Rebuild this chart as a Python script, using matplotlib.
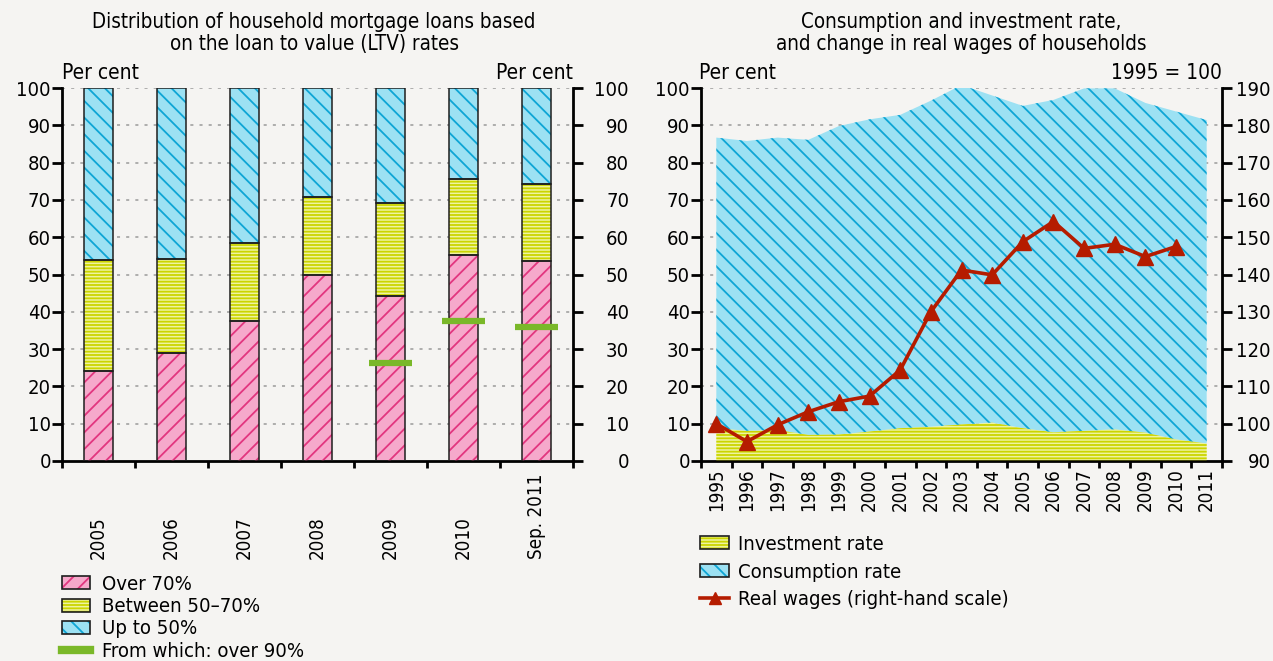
import matplotlib
matplotlib.use('Agg')
import matplotlib.pyplot as plt
import matplotlib.transforms as mtransforms
from matplotlib.patches import Patch
from matplotlib.lines import Line2D
from matplotlib.legend_handler import HandlerTuple
import numpy as np

# ---------------- data ----------------
ltv_categories = ['2005', '2006', '2007', '2008', '2009', '2010', 'Sep. 2011']
over_70 = [24.0, 29.0, 37.4, 50.0, 44.3, 55.1, 53.7]
between_50_70 = [29.9, 25.1, 21.1, 20.7, 24.8, 20.5, 20.5]
up_to_50 = [46.1, 45.9, 41.5, 29.3, 30.9, 24.4, 25.8]
over_90 = [np.nan, np.nan, np.nan, np.nan, 26.2, 37.5, 35.8]

years = ['1995', '1996', '1997', '1998', '1999', '2000', '2001', '2002', '2003',
         '2004', '2005', '2006', '2007', '2008', '2009', '2010', '2011']
investment_rate = [8.8, 8.1, 8.3, 7.0, 7.1, 7.9, 8.8, 9.2, 9.8, 10.3, 8.8, 7.7, 8.1, 8.5, 7.6, 5.8, 4.7]
consumption_rate = [77.9, 77.7, 78.4, 79.1, 82.7, 83.7, 84.0, 87.4, 91.0, 87.7, 86.4, 89.1, 91.8, 91.4, 88.4, 87.9, 86.7]
real_wages = [100.0, 95.2, 99.7, 103.2, 105.9, 107.4, 114.4, 130.0, 141.2, 139.9, 148.8, 154.2, 147.0, 148.1, 144.8, 147.5]

# ---------------- style ----------------
plt.rcParams['font.family'] = ['DejaVu Sans']
plt.rcParams['font.stretch'] = 'condensed'
plt.rcParams['hatch.linewidth'] = 1.3

BG = '#f5f4f2'
PINK_FACE, PINK_HATCH = '#f6a9cb', '#e2367f'
YEL_FACE, YEL_HATCH = '#eef3a0', '#cbd500'
BLUE_FACE, BLUE_HATCH = '#9ce1f3', '#0ea5d5'
GREEN = '#7ab829'
RED = '#b51c00'
YFS = 14.5      # y tick labels
XFS = 13.5      # rotated category labels
LFS = 14.6      # legend
TXT = 15        # "Per cent" etc.
TFS = 14.8      # titles
TL = 7          # tick length (pt)
PAD = 1         # tick label pad (pt)

W, H = 1273, 661
fig = plt.figure(figsize=(W / 100, H / 100), dpi=100)
fig.patch.set_facecolor(BG)

def px(x0, y_top, x1, y_bot):
    return [x0 / W, 1 - y_bot / H, (x1 - x0) / W, (y_bot - y_top) / H]

def right_align(axis_obj, spine_px, target_px):
    shift = target_px - (spine_px + (TL + PAD) / 0.72)
    off = mtransforms.ScaledTranslation(shift / 100, 0, fig.dpi_scale_trans)
    for t in axis_obj.get_major_ticks():
        t.label2.set_horizontalalignment('right')
        t.label2.set_transform(t.label2.get_transform() + off)

grid_kw = dict(color='#9a9a9a', linestyle=(0, (2, 4)), linewidth=1.1)
H_PINK, H_YEL, H_BLUE = '//', '-----', '\\\\'

# ================= left chart =================
ax1 = fig.add_axes(px(62, 88, 573, 461))
ax1.set_facecolor('none')
n = len(ltv_categories)
x1 = np.arange(n)
bw = 0.41
bottoms = np.zeros(n)
for vals, fc, hc, h in [(over_70, PINK_FACE, PINK_HATCH, H_PINK),
                        (between_50_70, YEL_FACE, YEL_HATCH, H_YEL),
                        (up_to_50, BLUE_FACE, BLUE_HATCH, H_BLUE)]:
    vals = np.array(vals)
    ax1.bar(x1, vals, bw, bottom=bottoms, color=fc, edgecolor='none', zorder=2)
    ax1.bar(x1, vals, bw, bottom=bottoms, facecolor='none', edgecolor=hc, hatch=h, linewidth=0, zorder=3)
    ax1.bar(x1, vals, bw, bottom=bottoms, facecolor='none', edgecolor='#1e1e1e', linewidth=1.1, zorder=4)
    bottoms = bottoms + vals
o90 = np.array(over_90)
m = ~np.isnan(o90)
ax1.hlines(o90[m], x1[m] - 0.3, x1[m] + 0.3, colors=GREEN, linewidth=4.5, zorder=5)

ax1.set_xlim(-0.5, n - 0.5)
ax1.set_ylim(0, 100)
ax1.set_yticks(np.arange(0, 101, 10))
for y in range(10, 101, 10):
    ax1.axhline(y, zorder=1, **grid_kw)
ax1.set_xticks(x1)
ax1.set_xticklabels([])
ax1.set_xticks(np.arange(-0.5, n, 1.0), minor=True)
ax1.tick_params(axis='x', which='major', length=0)
ax1.tick_params(axis='x', which='minor', length=5, width=2, direction='out')
ax1.tick_params(axis='y', which='major', length=TL, width=2, direction='out',
                left=True, right=True, labelleft=True, labelright=True, labelsize=YFS, pad=PAD)
for s in ['left', 'right', 'bottom']:
    ax1.spines[s].set_linewidth(2)
ax1.spines['top'].set_visible(False)
right_align(ax1.yaxis, 573, 629)
trans1 = mtransforms.blended_transform_factory(ax1.transData, ax1.transAxes)
for i, lab in enumerate(ltv_categories):
    ax1.text(i, -0.262, lab, transform=trans1, rotation=90, ha='center', va='bottom', fontsize=XFS)

fig.text(314 / W, 1 - 12 / H, 'Distribution of household mortgage loans based\non the loan to value (LTV) rates',
         ha='center', va='top', fontsize=TFS, linespacing=1.1)
fig.text(62 / W, 1 - 73 / H, 'Per cent', ha='left', va='center', fontsize=TXT)
fig.text(573 / W, 1 - 73 / H, 'Per cent', ha='right', va='center', fontsize=TXT)

def boxed(fc, hc, h):
    return (Patch(facecolor=fc, edgecolor=hc, hatch=h, linewidth=0),
            Patch(facecolor='none', edgecolor='#1e1e1e', linewidth=1.2))

leg1_handles = [boxed(PINK_FACE, PINK_HATCH, H_PINK), boxed(YEL_FACE, YEL_HATCH, H_YEL),
                boxed(BLUE_FACE, BLUE_HATCH, H_BLUE), Line2D([], [], color=GREEN, linewidth=6)]
leg1_labels = ['Over 70%', 'Between 50\u201370%', 'Up to 50%', 'From which: over 90%']
fig.legend(leg1_handles, leg1_labels, loc='upper left', bbox_to_anchor=(62 / W, 1 - 575 / H),
           frameon=False, fontsize=LFS, handlelength=1.4, handleheight=0.62, handletextpad=0.58,
           labelspacing=0.16, borderaxespad=0, borderpad=0,
           handler_map={tuple: HandlerTuple(ndivide=1)})

# ================= right chart =================
ax2 = fig.add_axes(px(701, 88, 1222, 461))
ax2.set_facecolor('none')
xs = np.arange(len(years))
inv = np.array(investment_rate)
top = inv + np.array(consumption_rate)
ax2.fill_between(xs, 0, inv, facecolor=YEL_FACE, edgecolor='none', linewidth=0, zorder=2)
ax2.fill_between(xs, 0, inv, facecolor='none', edgecolor=YEL_HATCH, hatch=H_YEL, linewidth=0, zorder=3)
ax2.fill_between(xs, inv, top, facecolor=BLUE_FACE, edgecolor='none', linewidth=0, zorder=2)
ax2.fill_between(xs, inv, top, facecolor='none', edgecolor=BLUE_HATCH, hatch=H_BLUE, linewidth=0, zorder=3)
ax2.set_xlim(-0.5, len(years) - 0.5)
ax2.set_ylim(0, 100)
ax2.set_yticks(np.arange(0, 101, 10))
for y in range(10, 101, 10):
    ax2.axhline(y, zorder=1, **grid_kw)
ax2.set_xticks(xs)
ax2.set_xticklabels(years, rotation=90, fontsize=XFS)
ax2.set_xticks(np.arange(-0.5, len(years), 1.0), minor=True)
ax2.tick_params(axis='x', which='major', length=0, pad=5)
ax2.tick_params(axis='x', which='minor', length=5, width=2, direction='out')
ax2.tick_params(axis='y', length=TL, width=2, direction='out', labelsize=YFS, pad=PAD)
ax2.spines['left'].set_linewidth(2)
ax2.spines['bottom'].set_linewidth(2)
ax2.spines['top'].set_visible(False)
ax2.spines['right'].set_visible(False)

ax2r = ax2.twinx()
ax2r.plot(xs[:len(real_wages)], real_wages, color=RED, linewidth=2.6, marker='^', markersize=11, zorder=5)
ax2r.set_ylim(90, 190)
ax2r.set_yticks(np.arange(90, 191, 10))
ax2r.tick_params(axis='y', length=TL, width=2, direction='out', labelsize=YFS, pad=PAD)
ax2r.spines['right'].set_linewidth(2)
for s in ['left', 'top', 'bottom']:
    ax2r.spines[s].set_visible(False)
right_align(ax2r.yaxis, 1222, 1271)

fig.text(961 / W, 1 - 12 / H, 'Consumption and investment rate,\nand change in real wages of households',
         ha='center', va='top', fontsize=TFS, linespacing=1.1)
fig.text(699 / W, 1 - 73 / H, 'Per cent', ha='left', va='center', fontsize=TXT)
fig.text(1222 / W, 1 - 73 / H, '1995 = 100', ha='right', va='center', fontsize=TXT)

leg2_handles = [boxed(YEL_FACE, YEL_HATCH, H_YEL), boxed(BLUE_FACE, BLUE_HATCH, H_BLUE),
                Line2D([], [], color=RED, linewidth=2.6, marker='^', markersize=9)]
leg2_labels = ['Investment rate', 'Consumption rate', 'Real wages (right-hand scale)']
fig.legend(leg2_handles, leg2_labels, loc='upper left', bbox_to_anchor=(700 / W, 1 - 535 / H),
           frameon=False, fontsize=LFS, handlelength=1.45, handleheight=0.62, handletextpad=0.4,
           labelspacing=0.42, borderaxespad=0, borderpad=0,
           handler_map={tuple: HandlerTuple(ndivide=1)})

fig.savefig('out.png', dpi=100, facecolor=BG)
